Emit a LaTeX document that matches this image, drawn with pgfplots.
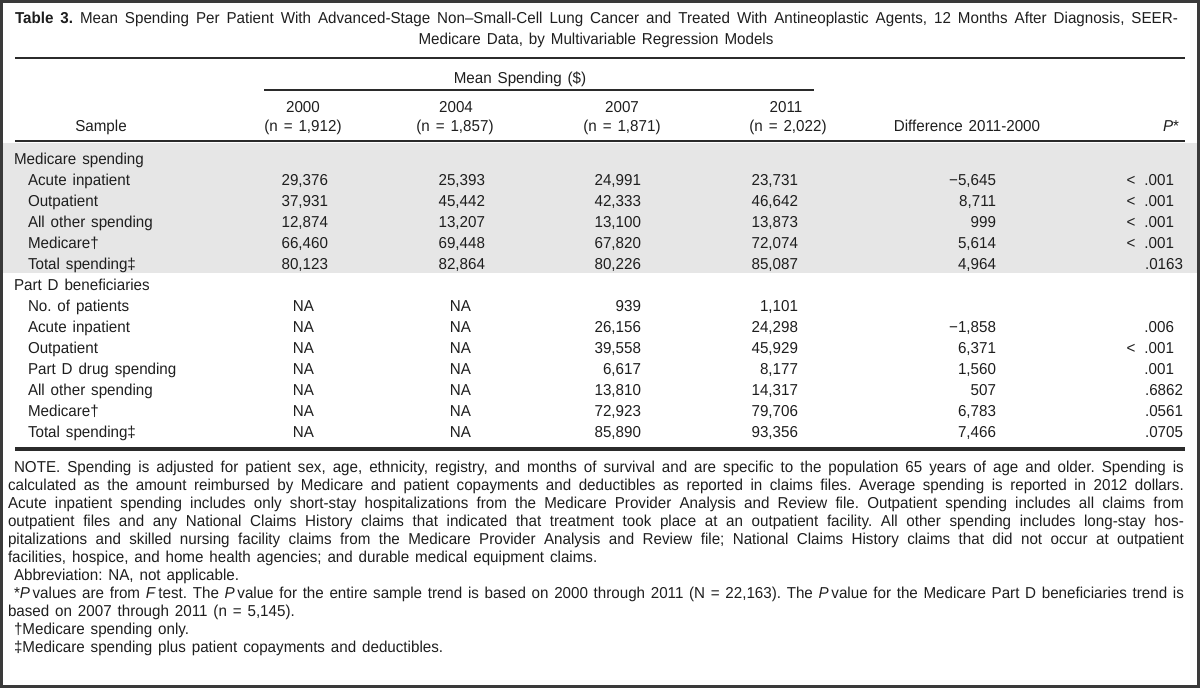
\documentclass[border=0pt]{standalone}
\usepackage{pgfplots}
\pgfplotsset{compat=1.18}
\usepackage{fontspec}
\setmainfont{Liberation Sans}[FakeStretch=0.96, WordSpace=1.4]
\frenchspacing
\newlength\px \setlength\px{0.5bp}
\definecolor{txt}{HTML}{1E1E1E}
\definecolor{rulec}{HTML}{2B2B2B}
\definecolor{band}{HTML}{E6E6E6}
\definecolor{framec}{HTML}{3A3A3A}
\newcommand\tf{\fontsize{7.9bp}{9.5bp}\selectfont}
\newcommand\nf{\fontsize{7.9bp}{9.5bp}\selectfont}
\pgfplotsset{
  cell/.style={draw=none, mark=none, point meta=explicit symbolic,
    nodes near coords={\pgfplotspointmeta},
    every node near coord/.append style={anchor=#1, inner sep=0pt, outer sep=0pt, font=\tf, text=txt}},
  rl/.style={draw=rulec, line width=#1, mark=none},
}
\tikzset{tx/.style={anchor=#1, inner sep=0pt, outer sep=0pt, font=\tf, text=txt}}
\begin{document}
\begin{tikzpicture}
\begin{axis}[
  width=600bp, height=344bp, scale only axis,
  xmin=0, xmax=1200, ymin=0, ymax=688, y dir=reverse,
  axis lines=none, clip=false,
]
% shaded block
\addplot[fill=band, draw=none, mark=none] coordinates {(3,143) (1197,143) (1197,273) (3,273)} -- cycle;
% frame
\addplot[draw=framec, line width=3\px, mark=none] coordinates {(1.5,1.5) (1198.5,1.5) (1198.5,686.5) (1.5,686.5)} -- cycle;
% rules
\addplot[rl=2.5\px] coordinates {(15,58) (1185,58)};
\addplot[rl=2\px] coordinates {(264,90) (814,90)};
\addplot[rl=2\px] coordinates {(15,141) (1185,141)};
\addplot[rl=4\px] coordinates {(15,449) (1185,449)};

% title
\node[tx=base west] at (axis cs:15,24) {\makebox[1163\px][s]{\textbf{Table 3.}\ Mean Spending Per Patient With Advanced-Stage Non–Small-Cell Lung Cancer and Treated With Antineoplastic Agents, 12 Months After Diagnosis, SEER-}};
\node[tx=base] at (axis cs:596,45) {Medicare Data, by Multivariable Regression Models};

% header
\node[tx=base] at (axis cs:520,83) {Mean Spending (\$)};
\node[tx=base] at (axis cs:303,112) {2000};
\node[tx=base] at (axis cs:456,112) {2004};
\node[tx=base] at (axis cs:622,112) {2007};
\node[tx=base] at (axis cs:786,112) {2011};
\node[tx=base] at (axis cs:303,131) {(n = 1,912)};
\node[tx=base] at (axis cs:455,131) {(n = 1,857)};
\node[tx=base] at (axis cs:622,131) {(n = 1,871)};
\node[tx=base] at (axis cs:788,131) {(n = 2,022)};
\node[tx=base] at (axis cs:101,131) {Sample};
\node[tx=base] at (axis cs:967,131) {Difference 2011-2000};
\node[tx=base] at (axis cs:1171,131) {\textit{P}*};

% row labels
\addplot[cell=base west] table[meta=v, col sep=semicolon, row sep=\\] {
x;y;v\\
14;164;Medicare spending\\
28;185;Acute inpatient\\
28;206;Outpatient\\
28;227;All other spending\\
28;248;Medicare†\\
28;269;Total spending‡\\
14;290;Part D beneficiaries\\
28;311;No. of patients\\
28;332;Acute inpatient\\
28;353;Outpatient\\
28;374;Part D drug spending\\
28;395;All other spending\\
28;416;Medicare†\\
28;437;Total spending‡\\
};

% 2000
\addplot[cell=base east] table[meta=v, col sep=semicolon, row sep=\\] {
x;y;v\\
328;185;29,376\\
328;206;37,931\\
328;227;12,874\\
328;248;66,460\\
328;269;80,123\\
314;311;NA\\
314;332;NA\\
314;353;NA\\
314;374;NA\\
314;395;NA\\
314;416;NA\\
314;437;NA\\
};
% 2004
\addplot[cell=base east] table[meta=v, col sep=semicolon, row sep=\\] {
x;y;v\\
485;185;25,393\\
485;206;45,442\\
485;227;13,207\\
485;248;69,448\\
485;269;82,864\\
471;311;NA\\
471;332;NA\\
471;353;NA\\
471;374;NA\\
471;395;NA\\
471;416;NA\\
471;437;NA\\
};
% 2007
\addplot[cell=base east] table[meta=v, col sep=semicolon, row sep=\\] {
x;y;v\\
641;185;24,991\\
641;206;42,333\\
641;227;13,100\\
641;248;67,820\\
641;269;80,226\\
641;311;939\\
641;332;26,156\\
641;353;39,558\\
641;374;6,617\\
641;395;13,810\\
641;416;72,923\\
641;437;85,890\\
};
% 2011
\addplot[cell=base east] table[meta=v, col sep=semicolon, row sep=\\] {
x;y;v\\
798;185;23,731\\
798;206;46,642\\
798;227;13,873\\
798;248;72,074\\
798;269;85,087\\
798;311;1,101\\
798;332;24,298\\
798;353;45,929\\
798;374;8,177\\
798;395;14,317\\
798;416;79,706\\
798;437;93,356\\
};
% difference
\addplot[cell=base east] table[meta=v, col sep=semicolon, row sep=\\] {
x;y;v\\
996;185;−5,645\\
996;206;8,711\\
996;227;999\\
996;248;5,614\\
996;269;4,964\\
996;332;−1,858\\
996;353;6,371\\
996;374;1,560\\
996;395;507\\
996;416;6,783\\
996;437;7,466\\
};
% P
\addplot[cell=base east] table[meta=v, col sep=semicolon, row sep=\\] {
x;y;v\\
1174;185;< \kern1.5bp.001\\
1174;206;< \kern1.5bp.001\\
1174;227;< \kern1.5bp.001\\
1174;248;< \kern1.5bp.001\\
1183;269;.0163\\
1174;332;.006\\
1174;353;< \kern1.5bp.001\\
1174;374;.001\\
1183;395;.6862\\
1183;416;.0561\\
1183;437;.0705\\
};

% notes
\node[tx=base west, font=\nf] at (axis cs:14,472) {\makebox[1170\px][s]{NOTE. Spending is adjusted for patient sex, age, ethnicity, registry, and months of survival and are specific to the population 65 years of age and older. Spending is}};
\node[tx=base west, font=\nf] at (axis cs:8,490) {\makebox[1176\px][s]{calculated as the amount reimbursed by Medicare and patient copayments and deductibles as reported in claims files. Average spending is reported in 2012 dollars.}};
\node[tx=base west, font=\nf] at (axis cs:8,508) {\makebox[1176\px][s]{Acute inpatient spending includes only short-stay hospitalizations from the Medicare Provider Analysis and Review file. Outpatient spending includes all claims from}};
\node[tx=base west, font=\nf] at (axis cs:8,526) {\makebox[1176\px][s]{outpatient files and any National Claims History claims that indicated that treatment took place at an outpatient facility. All other spending includes long-stay hos-}};
\node[tx=base west, font=\nf] at (axis cs:8,544) {\makebox[1176\px][s]{pitalizations and skilled nursing facility claims from the Medicare Provider Analysis and Review file; National Claims History claims that did not occur at outpatient}};
\node[tx=base west, font=\nf] at (axis cs:8,562) {facilities, hospice, and home health agencies; and durable medical equipment claims.};
\node[tx=base west, font=\nf] at (axis cs:14,580) {Abbreviation: NA, not applicable.};
\node[tx=base west, font=\nf] at (axis cs:14,598) {\makebox[1170\px][s]{*\textit{P}\,values are from \textit{F}\,test. The \textit{P}\,value for the entire sample trend is based on 2000 through 2011 (N = 22,163). The \textit{P}\,value for the Medicare Part D beneficiaries trend is}};
\node[tx=base west, font=\nf] at (axis cs:8,616) {based on 2007 through 2011 (n = 5,145).};
\node[tx=base west, font=\nf] at (axis cs:14,634) {†Medicare spending only.};
\node[tx=base west, font=\nf] at (axis cs:14,652) {‡Medicare spending plus patient copayments and deductibles.};
\end{axis}
\end{tikzpicture}
\end{document}
